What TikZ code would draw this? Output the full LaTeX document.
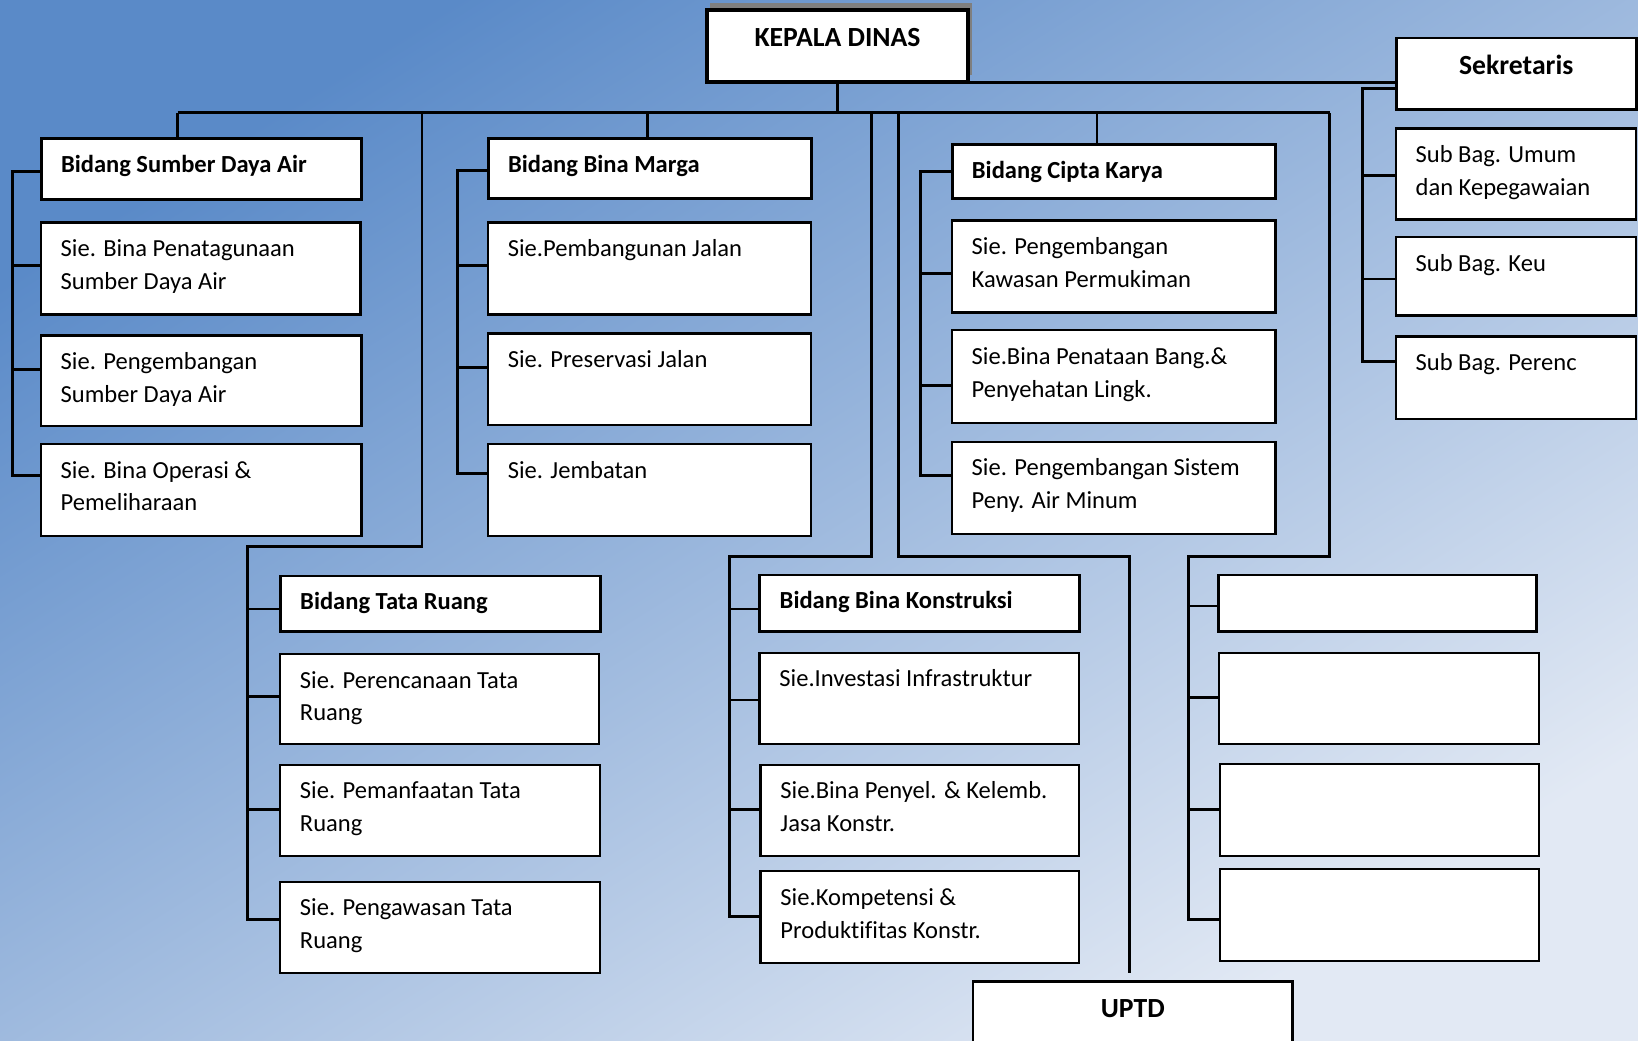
\documentclass[tikz,border=0pt]{standalone}
\usepackage{fontspec}
\setmainfont[Ligatures=NoCommon]{Carlito}
\definecolor{bgA}{HTML}{5A8AC8}
\definecolor{bgB}{HTML}{E2E9F4}
\definecolor{shadowgray}{HTML}{7F7F7F}
\newcommand\obox[7]{%
  \node[#2, anchor=north west, inner xsep=19pt, inner ysep=0pt] (#1) at (#3,#4)
  {\parbox[t][#6pt][t]{\dimexpr#5pt-38pt\relax}{\raggedright\rule{0pt}{32.5pt}#7}};}
\newcommand\cbox[7]{%
  \node[#2, anchor=north west, inner sep=0pt] (#1) at (#3,#4)
  {\parbox[t][#6pt][t]{#5pt}{\centering\rule{0pt}{35pt}#7}};}
\begin{document}
\begin{tikzpicture}[x=1pt,y=-1pt,
  hdr/.style={draw=black, line width=2.8pt, fill=white, font=\fontsize{23.5}{31.5}\selectfont\bfseries},
  sub/.style={draw=black, line width=2.2pt, fill=white, font=\fontsize{23.5}{31.5}\selectfont},
  big/.style={draw=black, line width=2.8pt, fill=white, font=\fontsize{26.5}{32}\selectfont\bfseries},
  conn/.style={draw=black, line width=2.6pt}]
\useasboundingbox (0,0) rectangle (1568,996);
\shade[top color=bgA, bottom color=bgB, shading angle=32] (0,0) rectangle (1568,996);

% ---- top level
\fill[shadowgray] (680,3) rectangle (930,72);
\cbox{kd}{big, line width=3.5pt}{675}{8}{250}{69}{KEPALA DINAS}
\cbox{sek}{big}{1335}{35}{230}{68}{Sekretaris}
\obox{sb1}{sub}{1335}{122}{230}{87}{Sub Bag. Umum\\dan Kepegawaian}
\obox{sb2}{sub}{1335}{226}{230}{75}{Sub Bag. Keu}
\obox{sb3}{sub}{1335}{321}{230}{79}{Sub Bag. Perenc}

% ---- Bidang Sumber Daya Air
\obox{sdh}{hdr}{38}{131}{307}{59}{Bidang Sumber Daya Air}
\obox{sd1}{sub}{38}{212}{306}{88}{Sie. Bina Penatagunaan\\Sumber Daya Air}
\obox{sd2}{sub}{38}{320}{307}{87}{Sie. Pengembangan\\Sumber Daya Air}
\obox{sd3}{sub}{38}{424}{307}{88}{Sie. Bina Operasi \&\\Pemeliharaan}

% ---- Bidang Bina Marga
\obox{bmh}{hdr}{466}{131}{309}{58}{Bidang Bina Marga}
\obox{bm1}{sub}{466}{212}{309}{88}{Sie.Pembangunan Jalan}
\obox{bm2}{sub}{466}{318}{309}{88}{Sie. Preservasi Jalan}
\obox{bm3}{sub}{466}{424}{309}{88}{Sie. Jembatan}

% ---- Bidang Cipta Karya
\obox{ckh}{hdr}{910}{137}{310}{52}{Bidang Cipta Karya}
\obox{ck1}{sub}{910}{210}{310}{88}{Sie. Pengembangan\\Kawasan Permukiman}
\obox{ck2}{sub}{910}{315}{310}{89}{Sie.Bina Penataan Bang.\&\\Penyehatan Lingk.}
\obox{ck3}{sub}{910}{422}{310}{88}{Sie. Pengembangan Sistem\\Peny. Air Minum}

% ---- Bidang Tata Ruang
\obox{trh}{hdr}{267}{550}{306}{53}{Bidang Tata Ruang}
\obox{tr1}{sub}{267}{625}{305}{86}{Sie. Perencanaan Tata\\Ruang}
\obox{tr2}{sub}{267}{731}{306}{87}{Sie. Pemanfaatan Tata\\Ruang}
\obox{tr3}{sub}{267}{843}{306}{87}{Sie. Pengawasan Tata\\Ruang}

% ---- Bidang Bina Konstruksi
\obox{bkh}{hdr}{726}{549}{306}{54}{Bidang Bina Konstruksi}
\obox{bk1}{sub}{726}{624}{306}{87}{Sie.Investasi Infrastruktur}
\obox{bk2}{sub}{727}{731}{305}{87}{Sie.Bina Penyel. \& Kelemb.\\Jasa Konstr.}
\obox{bk3}{sub}{727}{833}{305}{88}{Sie.Kompetensi \&\\Produktifitas Konstr.}

% ---- blank group
\obox{blh}{hdr}{1165}{549}{304}{54}{}
\obox{bl1}{sub}{1166}{624}{306}{87}{}
\obox{bl2}{sub}{1167}{730}{305}{88}{}
\obox{bl3}{sub}{1167}{831}{305}{88}{}

% ---- UPTD
\cbox{up}{big}{930}{938}{306}{62}{UPTD}

% ---- connectors
\draw[conn] (kd.south) -- (kd.south |- 0,108);
\draw[conn] (170,108) -- (1273,108);
\draw[conn] (799,79) -- (799,79 -| sek.west);
% secretary bracket
\draw[conn] (1304,85 -| sek.west) -- (1304,85) -- (1304,346) -- (1304,346 -| sb3.west);
\draw[conn] (1304,168) -- (1304,168 -| sb1.west);
\draw[conn] (1304,267) -- (1304,267 -| sb2.west);
% SDA
\draw[conn] (170,108) -- (170,108 |- sdh.north);
\draw[conn] (12,164 -| sdh.west) -- (12,164) -- (12,455) -- (12,455 -| sd3.west);
\draw[conn] (12,254) -- (12,254 -| sd1.west);
\draw[conn] (12,354) -- (12,354 -| sd2.west);
% Bina Marga
\draw[conn] (620,108) -- (620,108 |- bmh.north);
\draw[conn] (438,163 -| bmh.west) -- (438,163) -- (438,453) -- (438,453 -| bm3.west);
\draw[conn] (438,254) -- (438,254 -| bm1.west);
\draw[conn] (438,352) -- (438,352 -| bm2.west);
% Cipta Karya
\draw[conn] (1050,108) -- (1050,108 |- ckh.north);
\draw[conn] (881,164 -| ckh.west) -- (881,164) -- (881,455) -- (881,455 -| ck3.west);
\draw[conn] (881,262) -- (881,262 -| ck1.west);
\draw[conn] (881,369) -- (881,369 -| ck2.west);
% Tata Ruang
\draw[conn] (404,108) -- (404,523) -- (237,523) -- (237,880) -- (237,880 -| tr3.west);
\draw[conn] (237,583) -- (237,583 -| trh.west);
\draw[conn] (237,667) -- (237,667 -| tr1.west);
\draw[conn] (237,775) -- (237,775 -| tr2.west);
% Bina Konstruksi
\draw[conn] (834,108) -- (834,533) -- (698,533) -- (698,877) -- (698,877 -| bk3.west);
\draw[conn] (698,583) -- (698,583 -| bkh.west);
\draw[conn] (698,670) -- (698,670 -| bk1.west);
\draw[conn] (698,775) -- (698,775 -| bk2.west);
% UPTD
\draw[conn, shorten >=7pt] (860,108) -- (860,533) -- (1081,533) -- (1081,533 |- up.north);
% blank group
\draw[conn] (1273,108) -- (1273,533) -- (1138,533) -- (1138,880) -- (1138,880 -| bl3.west);
\draw[conn] (1138,580) -- (1138,580 -| blh.west);
\draw[conn] (1138,668) -- (1138,668 -| bl1.west);
\draw[conn] (1138,775) -- (1138,775 -| bl2.west);
\end{tikzpicture}
\end{document}
